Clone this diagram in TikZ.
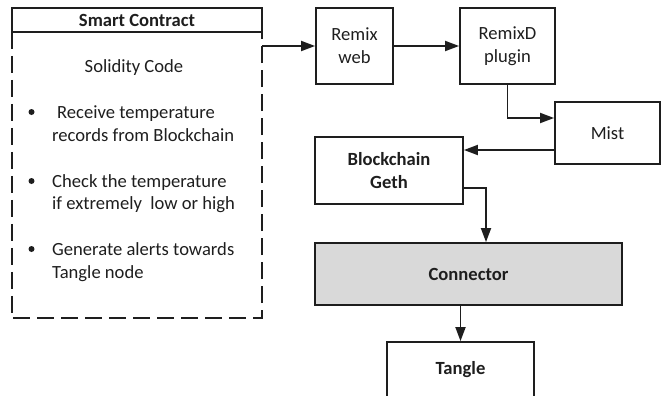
\documentclass[tikz,border=0pt]{standalone}
\usepackage{fontspec}
\setmainfont{Carlito}
\usetikzlibrary{arrows.meta}
\definecolor{ink}{HTML}{1E1E1E}
\definecolor{connfill}{HTML}{D9D9D9}
\begin{document}
\begin{tikzpicture}[x=1pt,y=-1pt,
  every node/.style={text=ink},
  box/.style={draw=ink, line width=1.8pt, inner sep=0pt, align=center,
    font=\fontsize{18.6}{23}\selectfont},
  boldbox/.style={box, font=\fontsize{18.6}{23}\selectfont\bfseries},
  txt/.style={inner sep=0pt, font=\fontsize{18.6}{23}\selectfont},
  bulletdot/.style={circle, fill=ink, inner sep=0pt, minimum size=6pt},
  dashedline/.style={draw=ink, line width=1.8pt, dash pattern=on 17pt off 7pt},
  arr/.style={draw=ink, line width=1.8pt, -{Triangle[length=14pt,width=10pt]}},
]
\begin{scope}
\clip (0,0) rectangle (661,396);
% Smart contract
\node[boldbox, minimum width=250pt, minimum height=24pt] (header) at (137,20) {Smart Contract};
\node[inner sep=0pt, minimum width=250pt, minimum height=286pt] (scbody) at (137,175) {};
\draw[dashedline] (scbody.north west) -- (scbody.south west) -- (scbody.south east) -- (scbody.north east);
\node[txt, anchor=base] (solidity) at (134,72) {Solidity Code};
\node[bulletdot] (b1) at (31.5,112) {};
\node[txt, anchor=base west] (t1a) at (57,118) {Receive temperature};
\node[txt, anchor=base west] (t1b) at (52,141) {records from Blockchain};
\node[bulletdot] (b2) at (31.5,181) {};
\node[txt, anchor=base west] (t2a) at (52,187) {Check the temperature};
\node[txt, anchor=base west] (t2b) at (52,209) {if extremely\ \ low or high};
\node[bulletdot] (b3) at (31.5,249) {};
\node[txt, anchor=base west] (t3a) at (52,255) {Generate alerts towards};
\node[txt, anchor=base west] (t3b) at (52,278) {Tangle node};
% boxes
\node[box, minimum width=77pt, minimum height=76pt] (remix) at (354.5,46) {Remix\\web};
\node[box, minimum width=95pt, minimum height=76pt] (remixd) at (507.5,46) {RemixD\\plugin};
\node[box, minimum width=105pt, minimum height=62pt] (mist) at (607.5,133) {Mist};
\node[boldbox, minimum width=148pt, minimum height=67pt] (bc) at (389,170.5) {Blockchain\\Geth};
\node[boldbox, fill=connfill, minimum width=307pt, minimum height=62pt] (conn) at (468.5,274) {Connector};
\node[boldbox, minimum width=147pt, minimum height=56pt] (tangle) at (460.5,370) {Tangle};
\coordinate (bcout) at ([yshift=-17.5pt]bc.east);
\coordinate (conntop) at (486,243);
% connectors
\draw[arr] (remix.west -| scbody.east) -- (remix.west);
\draw[arr] (remix.east) -- (remixd.west);
\draw[arr] (remixd.south) |- ([yshift=15pt]mist.west);
\draw[arr] ([yshift=-17pt]mist.west) -- ([yshift=-17pt]mist.west -| bc.east);
\draw[arr] (bcout) -| (conntop |- conn.north);
\draw[arr] (tangle.north |- conn.south) -- (tangle.north);
\end{scope}
\pgfresetboundingbox
\useasboundingbox (0,0) rectangle (661,396);
\end{tikzpicture}
\end{document}
